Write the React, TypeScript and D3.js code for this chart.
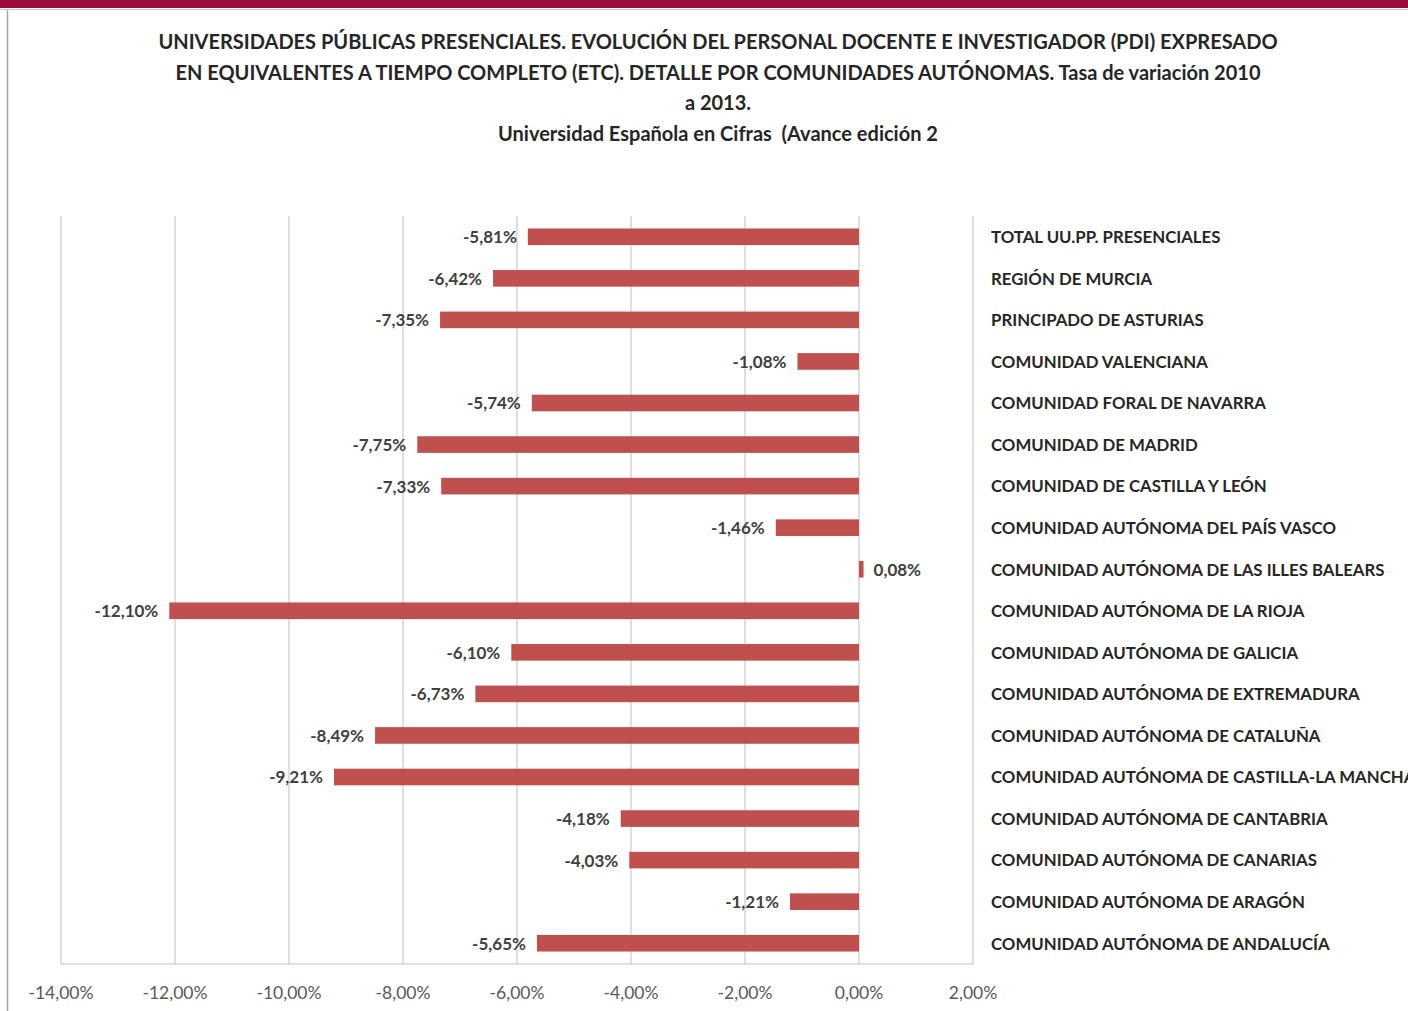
import React from 'react';
import * as d3 from 'd3';

const titleLines = [
  'UNIVERSIDADES PÚBLICAS PRESENCIALES. EVOLUCIÓN DEL PERSONAL DOCENTE E INVESTIGADOR (PDI) EXPRESADO',
  'EN EQUIVALENTES A TIEMPO COMPLETO (ETC). DETALLE POR COMUNIDADES AUTÓNOMAS. Tasa de variación 2010',
  'a 2013.',
  'Universidad Española en Cifras \u00a0(Avance edición 2',
];

const regions = [
  'TOTAL UU.PP. PRESENCIALES',
  'REGIÓN DE MURCIA',
  'PRINCIPADO DE ASTURIAS',
  'COMUNIDAD VALENCIANA',
  'COMUNIDAD FORAL DE NAVARRA',
  'COMUNIDAD DE MADRID',
  'COMUNIDAD DE CASTILLA Y LEÓN',
  'COMUNIDAD AUTÓNOMA DEL PAÍS VASCO',
  'COMUNIDAD AUTÓNOMA DE LAS ILLES BALEARS',
  'COMUNIDAD AUTÓNOMA DE LA RIOJA',
  'COMUNIDAD AUTÓNOMA DE GALICIA',
  'COMUNIDAD AUTÓNOMA DE EXTREMADURA',
  'COMUNIDAD AUTÓNOMA DE CATALUÑA',
  'COMUNIDAD AUTÓNOMA DE CASTILLA-LA MANCHA',
  'COMUNIDAD AUTÓNOMA DE CANTABRIA',
  'COMUNIDAD AUTÓNOMA DE CANARIAS',
  'COMUNIDAD AUTÓNOMA DE ARAGÓN',
  'COMUNIDAD AUTÓNOMA DE ANDALUCÍA',
];

const variation = [
  -5.81, -6.42, -7.35, -1.08, -5.74, -7.75, -7.33, -1.46, 0.08,
  -12.1, -6.1, -6.73, -8.49, -9.21, -4.18, -4.03, -1.21, -5.65,
];

const xTicks = [-14, -12, -10, -8, -6, -4, -2, 0, 2];

const W = 1408;
const H = 1011;
const plot = { left: 61, right: 973, top: 216, bottom: 964 };
const font = 'Lato, "Open Sans", sans-serif';

const fmt = (v: number) => v.toFixed(2).replace('.', ',') + '%';

export default function App() {
  const x = d3.scaleLinear().domain([-14, 2]).range([plot.left, plot.right]);
  const y = d3
    .scaleBand<string>()
    .domain(regions)
    .range([plot.top, plot.bottom])
    .paddingInner(0.6)
    .paddingOuter(0.3);

  return (
    <svg
      width={W}
      height={H}
      style={{ position: 'absolute', left: 0, top: 0, background: '#fff' }}
      fontFamily={font}
    >
      <rect x={0} y={0} width={W} height={8} fill="#9b0d3c" />
      <line x1={0} x2={W} y1={9.5} y2={9.5} stroke="#c8c8c8" />
      <line x1={7.5} x2={7.5} y1={10} y2={H} stroke="#a6a6a6" strokeWidth={1.5} />

      {titleLines.map((t, i) => (
        <text
          key={i}
          x={718}
          y={49 + i * 30.5}
          textAnchor="middle"
          fontSize={20}
          fontWeight="bold"
          fill="#262626"
        >
          {t}
        </text>
      ))}

      {/* gridlines */}
      {xTicks.map((t) => (
        <line
          key={t}
          x1={x(t)}
          x2={x(t)}
          y1={plot.top}
          y2={plot.bottom}
          stroke="#bfbfbf"
          strokeWidth={1}
        />
      ))}
      <line x1={plot.left} x2={plot.right} y1={plot.bottom} y2={plot.bottom} stroke="#bfbfbf" />

      {/* bars */}
      {regions.map((r, i) => {
        const v = variation[i];
        const x0 = x(Math.min(0, v));
        const x1 = x(Math.max(0, v));
        const yc = (y(r) as number) + y.bandwidth() / 2;
        return (
          <g key={r}>
            <rect x={x0} y={y(r)} width={Math.max(1, x1 - x0)} height={y.bandwidth()} fill="#c0504d" />
            <text
              x={v < 0 ? x0 - 11 : x1 + 10}
              y={yc}
              dy="0.38em"
              textAnchor={v < 0 ? 'end' : 'start'}
              fontSize={17}
              fontWeight="bold"
              fill="#404040"
            >
              {fmt(v)}
            </text>
            <text
              x={991}
              y={yc}
              dy="0.38em"
              fontSize={16.8}
              fontWeight="bold"
              fill="#262626"
            >
              {r}
            </text>
          </g>
        );
      })}

      {/* x tick labels */}
      {xTicks.map((t) => (
        <text
          key={t}
          x={x(t)}
          y={993}
          dy="0.35em"
          textAnchor="middle"
          fontSize={17.5}
          fill="#595959"
        >
          {fmt(t)}
        </text>
      ))}
    </svg>
  );
}
